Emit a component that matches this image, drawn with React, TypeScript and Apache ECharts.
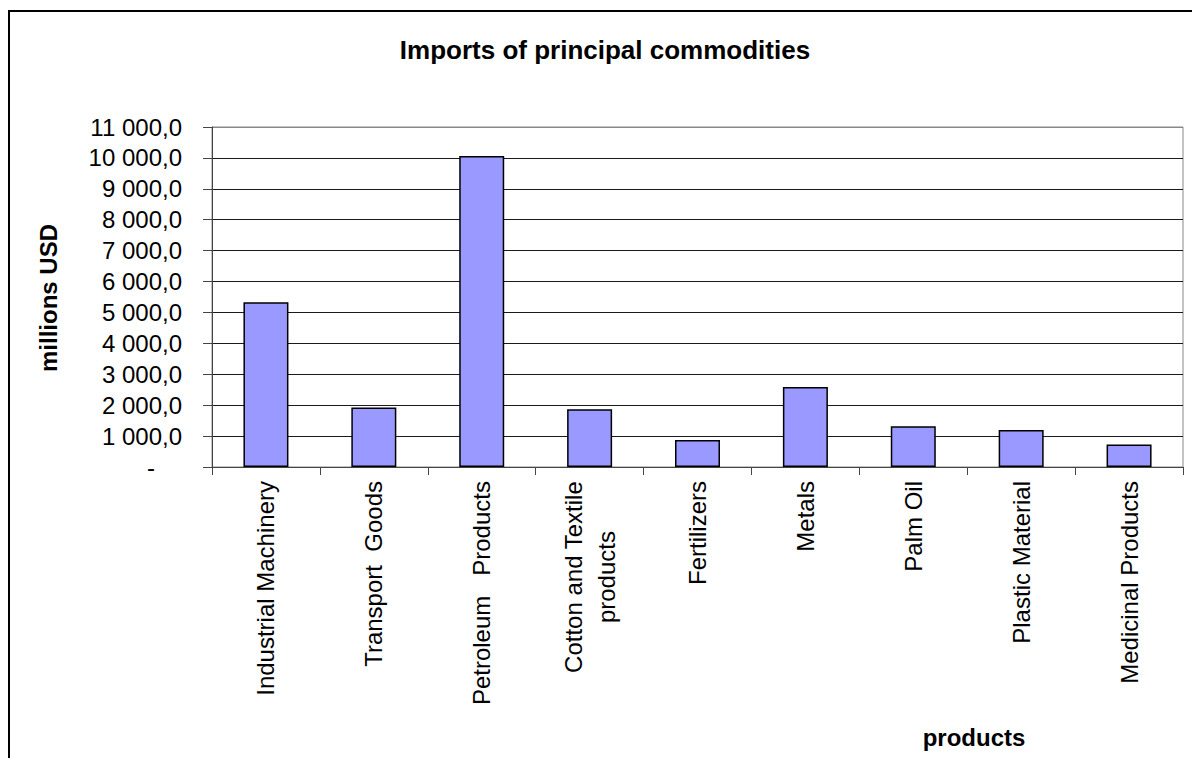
import React, { useEffect, useRef } from "react";
import * as echarts from "echarts";

const categories = [
  "Industrial Machinery",
  "Transport  Goods",
  "Petroleum   Products",
  "Cotton and Textile\nproducts",
  "Fertilizers",
  "Metals",
  "Palm Oil",
  "Plastic Material",
  "Medicinal Products",
];
const values = [5330, 1925, 10060, 1870, 875, 2590, 1320, 1200, 725];
const chartTitle = "Imports of principal commodities";
const yAxisName = "millions USD";
const xAxisName = "products";
const yMin = 0;
const yMax = 11000;
const yStep = 1000;

const FONT = '"Liberation Sans", Arial, sans-serif';

function fmt(v: number): string {
  if (v === 0) return "{d|-}";
  const fixed = v.toFixed(1);
  const [intPart, dec] = fixed.split(".");
  const withSpaces = intPart.replace(/\B(?=(\d{3})+(?!\d))/g, " ");
  return withSpaces + "," + dec;
}

function catFmt(v: string): string {
  if (v.indexOf("\n") < 0) return v;
  return v
    .split("\n")
    .map((s) => `{c|${s}}`)
    .join("\n");
}

export default function App() {
  const ref = useRef<HTMLDivElement>(null);
  useEffect(() => {
    document.body.style.margin = "0";
    const chart = echarts.init(ref.current!, null, { renderer: "svg" });
    const splitColors: string[] = [];
    for (let i = 0; i <= (yMax - yMin) / yStep; i++) {
      splitColors.push(i === (yMax - yMin) / yStep ? "#888888" : "#1a1a1a");
    }
    chart.setOption({
      animation: false,
      backgroundColor: "#ffffff",
      textStyle: { fontFamily: FONT },
      grid: {
        left: 212,
        right: 9,
        top: 127,
        bottom: 291,
        containLabel: false,
        show: true,
        borderColor: "#888888",
        borderWidth: 1,
      },
      xAxis: {
        type: "category",
        data: categories,
        axisLine: { show: true, lineStyle: { color: "#444444", width: 1 } },
        axisTick: { show: true, length: 8, lineStyle: { color: "#444444" } },
        axisLabel: {
          interval: 0,
          rotate: 90,
          margin: 14,
          fontSize: 24,
          lineHeight: 33,
          color: "#000000",
          fontFamily: FONT,
          formatter: (v: string) => catFmt(v),
          rich: {
            c: {
              fontSize: 24,
              lineHeight: 33,
              color: "#000000",
              fontFamily: FONT,
              align: "center",
            },
          },
        },
        splitLine: { show: false },
      },
      yAxis: {
        type: "value",
        min: yMin,
        max: yMax,
        interval: yStep,
        axisLine: { show: true, lineStyle: { color: "#444444", width: 1 } },
        axisTick: { show: true, length: 9, lineStyle: { color: "#444444" } },
        axisLabel: {
          margin: 30,
          fontSize: 24,
          color: "#000000",
          fontFamily: FONT,
          formatter: (v: number) => fmt(v),
          rich: {
            d: {
              fontSize: 24,
              color: "#000000",
              fontFamily: FONT,
              padding: [0, 27, 0, 0],
            },
          },
        },
        splitLine: {
          show: true,
          lineStyle: { color: splitColors, width: 1 },
        },
      },
      series: [
        {
          type: "bar",
          data: values,
          barWidth: 45,
          itemStyle: {
            color: "#9999FF",
            borderColor: "#000000",
            borderWidth: 1.5,
          },
        },
      ],
      graphic: [
        {
          type: "rect",
          shape: { x: 9, y: 11, width: 1300, height: 900 },
          style: { fill: "none", stroke: "#000000", lineWidth: 2 },
          silent: true,
          z: 100,
        },
        {
          type: "text",
          x: 605,
          y: 50,
          style: {
            text: chartTitle,
            font: `bold 26px ${FONT}`,
            fill: "#000000",
            textAlign: "center",
            textVerticalAlign: "middle",
          },
        },
        {
          type: "text",
          x: 48,
          y: 298,
          rotation: Math.PI / 2,
          style: {
            text: yAxisName,
            font: `bold 24px ${FONT}`,
            fill: "#000000",
            textAlign: "center",
            textVerticalAlign: "middle",
          },
        },
        {
          type: "text",
          x: 974,
          y: 737,
          style: {
            text: xAxisName,
            font: `bold 24px ${FONT}`,
            fill: "#000000",
            textAlign: "center",
            textVerticalAlign: "middle",
          },
        },
      ],
    });
    return () => chart.dispose();
  }, []);
  return <div ref={ref} style={{ width: 1192, height: 758 }} />;
}
